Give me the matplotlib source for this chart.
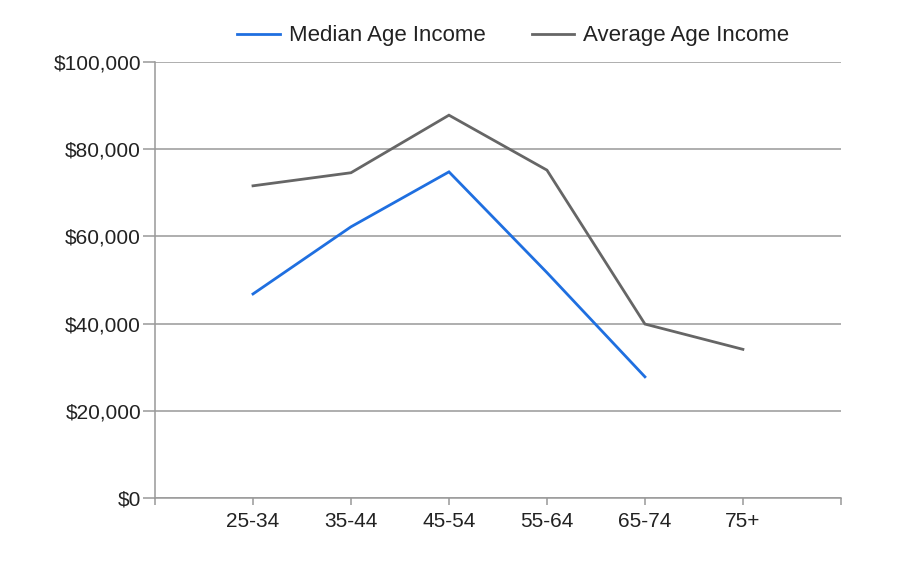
import matplotlib
matplotlib.use("Agg")
import matplotlib.pyplot as plt
from matplotlib.ticker import FuncFormatter

# data
age_groups = ["25-34", "35-44", "45-54", "55-64", "65-74", "75+"]
median_income = [46800, 62200, 74800, 51700, 27800]
average_income = [71600, 74600, 87800, 75200, 39900, 34100]
y_ticks = [0, 20000, 40000, 60000, 80000, 100000]

plt.rcParams['font.family'] = ['Liberation Sans', 'DejaVu Sans']

fig = plt.figure(figsize=(9.2, 5.88), dpi=100)
ax = fig.add_axes([0.1685, 0.153, 0.7455, 0.7416])

x = list(range(1, len(age_groups) + 1))
ax.plot(x[:len(median_income)], median_income, color='#1f6fe0', lw=2.0,
        label='Median Age Income', solid_joinstyle='miter')
ax.plot(x, average_income, color='#666666', lw=2.0,
        label='Average Age Income', solid_joinstyle='miter')

ax.set_xlim(0, len(age_groups) + 1)
ax.set_ylim(0, 100000)
ax.set_yticks(y_ticks)
ax.yaxis.set_major_formatter(FuncFormatter(lambda v, p: f"${v:,.0f}"))
ax.set_xticks([0] + x + [len(age_groups) + 1])
ax.set_xticklabels([''] + age_groups + [''])

ax.grid(axis='y', color='#999999', lw=1.1)
ax.set_axisbelow(True)
for side in ['top', 'right']:
    ax.spines[side].set_visible(False)
for side in ['left', 'bottom']:
    ax.spines[side].set_color('#999999')
    ax.spines[side].set_linewidth(1.1)
ax.tick_params(axis='both', colors='#999999', labelcolor='#222222',
               labelsize=15, width=1.1)
ax.tick_params(axis='y', length=8.5, pad=1.5)
ax.tick_params(axis='x', length=5, pad=5)

fig.legend(loc='center', bbox_to_anchor=(0.558, 1 - 36 / 588), ncol=2,
           frameon=False, fontsize=16, handlelength=1.9, columnspacing=2.1,
           handletextpad=0.4, labelcolor='#222222')

fig.savefig("out.png", dpi=100, facecolor='white')
